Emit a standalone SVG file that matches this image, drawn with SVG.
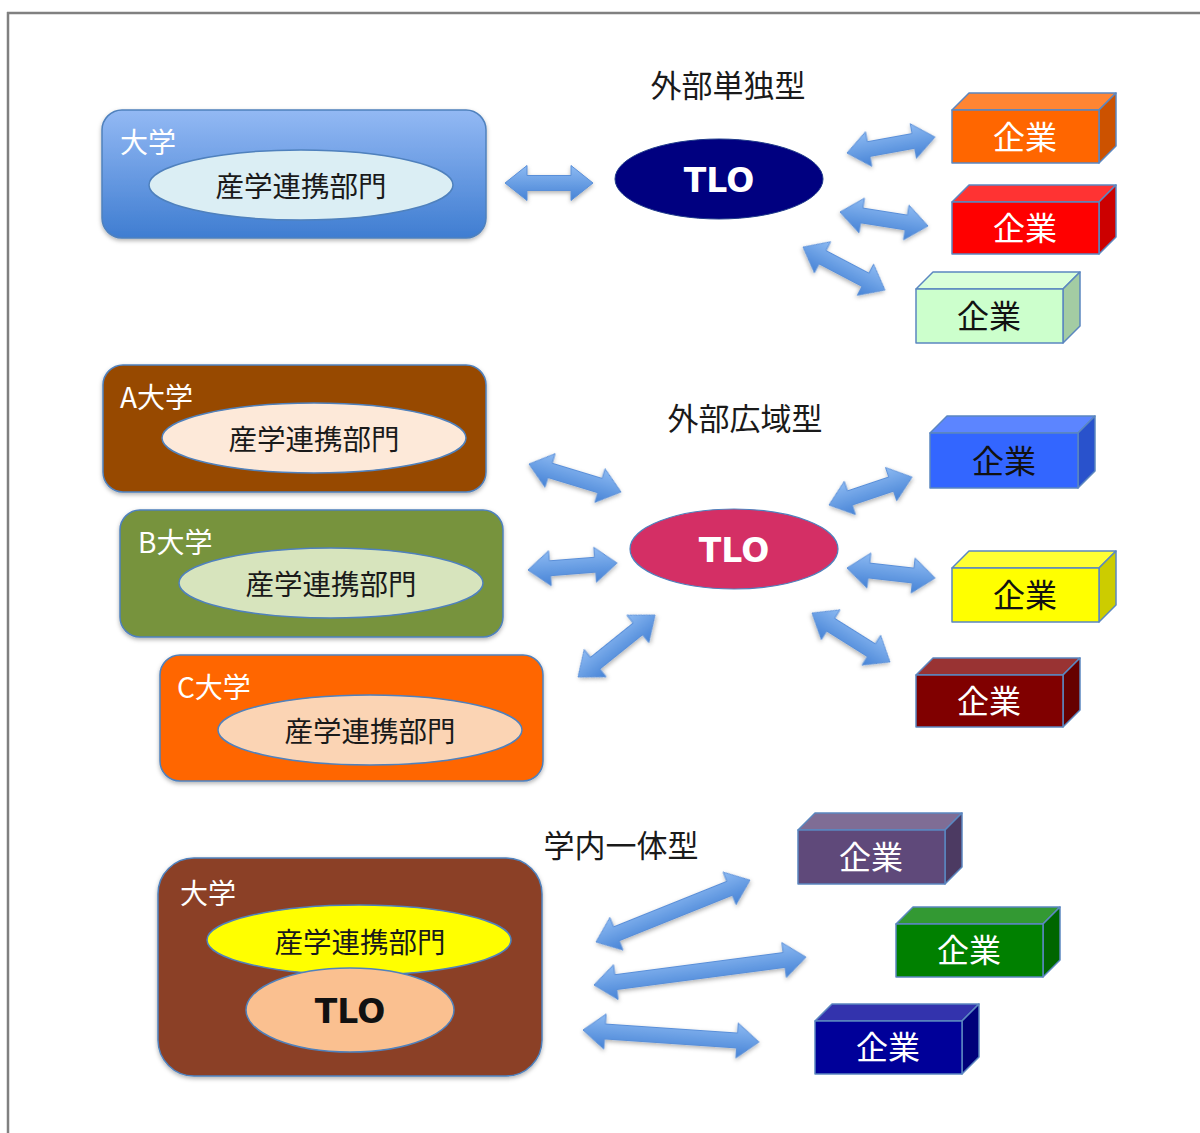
<svg xmlns="http://www.w3.org/2000/svg" width="1200" height="1133" viewBox="0 0 1200 1133">
<style>
.jp{font-family:"Noto Sans CJK JP","Noto Sans CJK SC",sans-serif;font-weight:normal;}
.ttl{font-size:31px;fill:#1a1a1a;text-anchor:middle;}
.lbl{font-size:28px;fill:#ffffff;}
.dept{font-size:28.5px;fill:#1a1a1a;text-anchor:middle;}
.co{font-size:32px;text-anchor:middle;}
.w{fill:#ffffff;}
.k{fill:#111111;}
.tlo{font-family:"DejaVu Sans",sans-serif;font-weight:bold;font-size:33px;text-anchor:middle;}
.univ{stroke:#4f81bd;stroke-width:1.5;filter:url(#sh);}
.ell{stroke:#4f81bd;stroke-width:1.5;}
.bx{stroke:#5b87c0;stroke-width:1.5;stroke-linejoin:round;}
.arr{fill:url(#ag);stroke:#5a8fd8;stroke-width:1;filter:url(#sh);}
</style>
<defs>
<linearGradient id="ag" x1="0" y1="0" x2="0" y2="1">
<stop offset="0" stop-color="#8dbaf2"/>
<stop offset="1" stop-color="#4683d6"/>
</linearGradient>
<linearGradient id="ug" x1="0" y1="0" x2="0" y2="1">
<stop offset="0" stop-color="#93b9f4"/>
<stop offset="1" stop-color="#3f7dd1"/>
</linearGradient>
<filter id="sh" x="-20%" y="-20%" width="140%" height="150%">
<feDropShadow dx="0" dy="2" stdDeviation="2" flood-color="#000" flood-opacity="0.3"/>
</filter>
</defs>
<rect x="0" y="0" width="1200" height="1133" fill="#ffffff"/>
<g id="frame" stroke="#808080" stroke-width="2.5">
<line x1="7" y1="13" x2="1200" y2="13"/>
<line x1="8" y1="12" x2="8" y2="1133"/>
</g>

<g id="titles">
<text class="ttl jp" x="728" y="97">外部単独型</text>
<text class="ttl jp" x="745" y="430">外部広域型</text>
<text class="ttl jp" x="621" y="857">学内一体型</text>
</g>

<!-- Top section -->
<g id="univ-top">
<rect class="univ" x="102" y="110" width="384" height="128" rx="20" fill="url(#ug)"/>
<text class="lbl jp" x="120" y="153">大学</text>
<ellipse class="ell" cx="301" cy="185" rx="152" ry="35" fill="#dbeef4"/>
<text class="dept jp" x="301" y="197">産学連携部門</text>
</g>
<g id="tlo-top">
<ellipse cx="719" cy="179" rx="104" ry="40" fill="#000080" stroke="#1f3b8a" stroke-width="1"/>
<text class="tlo w" x="719" y="192">TLO</text>
</g>

<g id="co-orange">
<polygon class="bx" points="952,110 969,93 1116,93 1099,110" fill="#ff8533"/>
<polygon class="bx" points="1099,110 1116,93 1116,146 1099,163" fill="#cc5200"/>
<rect class="bx" x="952" y="110" width="147" height="53" fill="#ff6600"/>
<text class="co jp w" x="1025" y="149">企業</text>
</g>
<g id="co-red">
<polygon class="bx" points="952,202 969,185 1116,185 1099,202" fill="#ff3333"/>
<polygon class="bx" points="1099,202 1116,185 1116,237 1099,254" fill="#cc0000"/>
<rect class="bx" x="952" y="202" width="147" height="52" fill="#ff0000"/>
<text class="co jp w" x="1025" y="240">企業</text>
</g>
<g id="co-lightgreen">
<polygon class="bx" points="916,289 933,272 1080,272 1063,289" fill="#d9ffd9"/>
<polygon class="bx" points="1063,289 1080,272 1080,326 1063,343" fill="#a3cca3"/>
<rect class="bx" x="916" y="289" width="147" height="54" fill="#ccffcc"/>
<text class="co jp k" x="989" y="328">企業</text>
</g>

<!-- Middle section -->
<g id="univ-a">
<rect class="univ" x="103" y="365" width="383" height="127" rx="20" fill="#974806"/>
<text class="lbl jp" x="120" y="408">A大学</text>
<ellipse class="ell" cx="314" cy="438" rx="152" ry="35" fill="#fde9d9"/>
<text class="dept jp" x="314" y="450">産学連携部門</text>
</g>
<g id="univ-b">
<rect class="univ" x="120" y="510" width="383" height="127" rx="20" fill="#77933c"/>
<text class="lbl jp" x="138" y="553">B大学</text>
<ellipse class="ell" cx="331" cy="583" rx="152" ry="35" fill="#d7e4bd"/>
<text class="dept jp" x="331" y="595">産学連携部門</text>
</g>
<g id="univ-c">
<rect class="univ" x="160" y="655" width="383" height="126" rx="20" fill="#ff6600"/>
<text class="lbl jp" x="177" y="698">C大学</text>
<ellipse class="ell" cx="370" cy="730" rx="152" ry="35" fill="#fbd4b4"/>
<text class="dept jp" x="370" y="742">産学連携部門</text>
</g>
<g id="tlo-mid">
<ellipse cx="734" cy="549" rx="104" ry="40" fill="#d42f65" stroke="#4f81bd" stroke-width="1.2"/>
<text class="tlo w" x="734" y="562">TLO</text>
</g>

<g id="co-blue">
<polygon class="bx" points="930,433 947,416 1095,416 1078,433" fill="#5c85ff"/>
<polygon class="bx" points="1078,433 1095,416 1095,471 1078,488" fill="#2952cc"/>
<rect class="bx" x="930" y="433" width="148" height="55" fill="#3366ff"/>
<text class="co jp k" x="1004" y="473">企業</text>
</g>
<g id="co-yellow">
<polygon class="bx" points="952,568 969,551 1116,551 1099,568" fill="#ffff33"/>
<polygon class="bx" points="1099,568 1116,551 1116,605 1099,622" fill="#cccc00"/>
<rect class="bx" x="952" y="568" width="147" height="54" fill="#ffff00"/>
<text class="co jp k" x="1025" y="607">企業</text>
</g>
<g id="co-darkred">
<polygon class="bx" points="916,675 933,658 1080,658 1063,675" fill="#993333"/>
<polygon class="bx" points="1063,675 1080,658 1080,710 1063,727" fill="#660000"/>
<rect class="bx" x="916" y="675" width="147" height="52" fill="#800000"/>
<text class="co jp w" x="989" y="713">企業</text>
</g>

<!-- Bottom section -->
<g id="univ-bottom">
<rect class="univ" x="158" y="858" width="384" height="218" rx="36" fill="#8b4128"/>
<text class="lbl jp" x="180" y="904">大学</text>
<ellipse class="ell" cx="359" cy="940" rx="152" ry="35" fill="#ffff00"/>
<text class="dept jp" x="360" y="953">産学連携部門</text>
<ellipse class="ell" cx="350" cy="1010" rx="104" ry="42" fill="#fac090"/>
<text class="tlo k" x="350" y="1023">TLO</text>
</g>

<g id="co-purple">
<polygon class="bx" points="798,830 815,813 962,813 945,830" fill="#7f6d95"/>
<polygon class="bx" points="945,830 962,813 962,867 945,884" fill="#4c3a62"/>
<rect class="bx" x="798" y="830" width="147" height="54" fill="#5f497a"/>
<text class="co jp w" x="871" y="869">企業</text>
</g>
<g id="co-green">
<polygon class="bx" points="896,924 913,907 1060,907 1043,924" fill="#339933"/>
<polygon class="bx" points="1043,924 1060,907 1060,960 1043,977" fill="#006600"/>
<rect class="bx" x="896" y="924" width="147" height="53" fill="#008000"/>
<text class="co jp w" x="969" y="962">企業</text>
</g>
<g id="co-navy">
<polygon class="bx" points="815,1021 832,1004 979,1004 962,1021" fill="#3333ad"/>
<polygon class="bx" points="962,1021 979,1004 979,1057 962,1074" fill="#00007a"/>
<rect class="bx" x="815" y="1021" width="147" height="53" fill="#000099"/>
<text class="co jp w" x="888" y="1059">企業</text>
</g>

<g id="connectors">
<path class="arr" transform="translate(505,183)" d="M0,0 L22,-17.5 L22,-7.5 L66,-7.5 L66,-17.5 L88,0 L66,17.5 L66,7.5 L22,7.5 L22,17.5 Z"/>
<path class="arr" transform="translate(847,153) rotate(-10.3)" d="M0,0 L22,-17.5 L22,-7.5 L67.4,-7.5 L67.4,-17.5 L89.4,0 L67.4,17.5 L67.4,7.5 L22,7.5 L22,17.5 Z"/>
<path class="arr" transform="translate(840,212) rotate(9)" d="M0,0 L22,-17.5 L22,-7.5 L67.1,-7.5 L67.1,-17.5 L89.1,0 L67.1,17.5 L67.1,7.5 L22,7.5 L22,17.5 Z"/>
<path class="arr" transform="translate(803,247) rotate(27.7)" d="M0,0 L22,-17.5 L22,-7.5 L70.6,-7.5 L70.6,-17.5 L92.6,0 L70.6,17.5 L70.6,7.5 L22,7.5 L22,17.5 Z"/>
<path class="arr" transform="translate(529,464) rotate(16.9)" d="M0,0 L22,-17.5 L22,-7.5 L74.2,-7.5 L74.2,-17.5 L96.2,0 L74.2,17.5 L74.2,7.5 L22,7.5 L22,17.5 Z"/>
<path class="arr" transform="translate(528,570) rotate(-4.5)" d="M0,0 L22,-17.5 L22,-7.5 L67.3,-7.5 L67.3,-17.5 L89.3,0 L67.3,17.5 L67.3,7.5 L22,7.5 L22,17.5 Z"/>
<path class="arr" transform="translate(578,677) rotate(-38.8)" d="M0,0 L22,-17.5 L22,-7.5 L76.9,-7.5 L76.9,-17.5 L98.9,0 L76.9,17.5 L76.9,7.5 L22,7.5 L22,17.5 Z"/>
<path class="arr" transform="translate(829,505) rotate(-18.6)" d="M0,0 L22,-17.5 L22,-7.5 L65.6,-7.5 L65.6,-17.5 L87.6,0 L65.6,17.5 L65.6,7.5 L22,7.5 L22,17.5 Z"/>
<path class="arr" transform="translate(847,568) rotate(6.5)" d="M0,0 L22,-17.5 L22,-7.5 L66.6,-7.5 L66.6,-17.5 L88.6,0 L66.6,17.5 L66.6,7.5 L22,7.5 L22,17.5 Z"/>
<path class="arr" transform="translate(812,613) rotate(32.1)" d="M0,0 L22,-17.5 L22,-7.5 L70.1,-7.5 L70.1,-17.5 L92.1,0 L70.1,17.5 L70.1,7.5 L22,7.5 L22,17.5 Z"/>
<path class="arr" transform="translate(596,942) rotate(-21.9)" d="M0,0 L22,-17.5 L22,-7.5 L144,-7.5 L144,-17.5 L166,0 L144,17.5 L144,7.5 L22,7.5 L22,17.5 Z"/>
<path class="arr" transform="translate(594,985) rotate(-7.5)" d="M0,0 L22,-17.5 L22,-7.5 L191.8,-7.5 L191.8,-17.5 L213.8,0 L191.8,17.5 L191.8,7.5 L22,7.5 L22,17.5 Z"/>
<path class="arr" transform="translate(583,1030) rotate(3.9)" d="M0,0 L22,-17.5 L22,-7.5 L154.4,-7.5 L154.4,-17.5 L176.4,0 L154.4,17.5 L154.4,7.5 L22,7.5 L22,17.5 Z"/>
</g>
</svg>
